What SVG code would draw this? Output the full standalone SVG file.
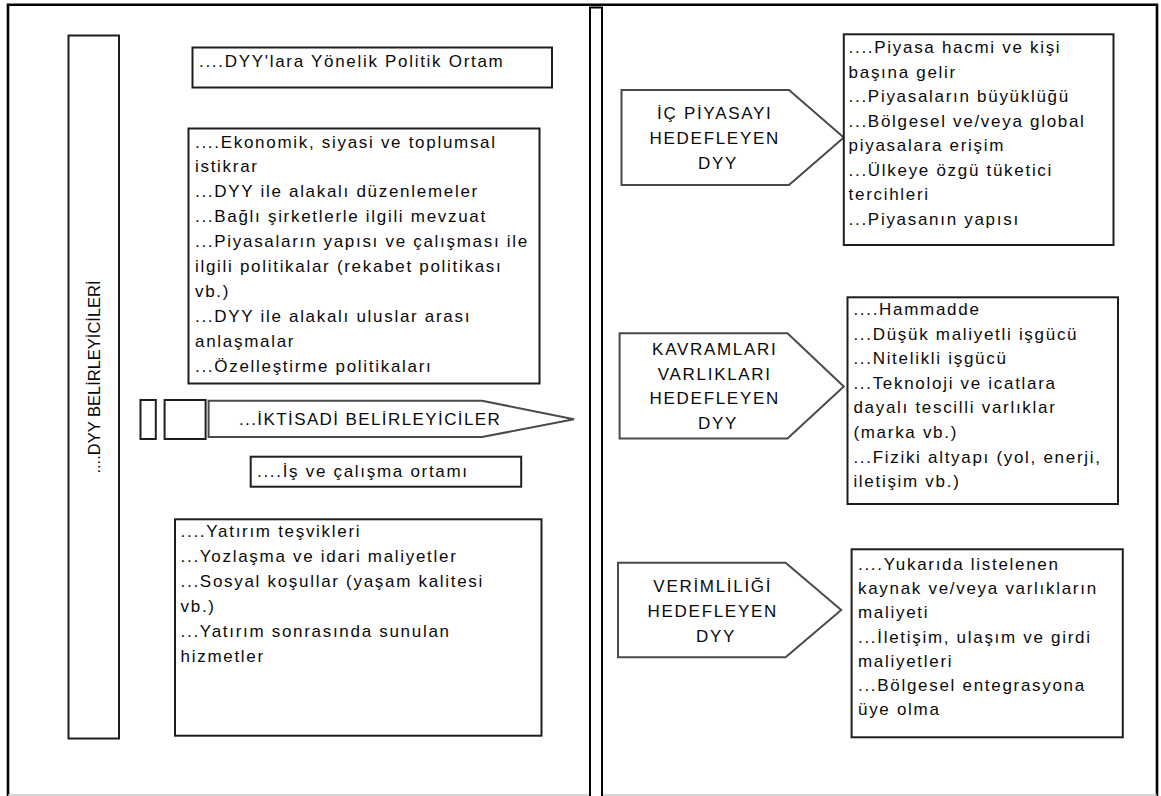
<svg xmlns="http://www.w3.org/2000/svg" width="1161" height="796" viewBox="0 0 1161 796">
<style>
  .bg{fill:#ffffff}
  .box{fill:#ffffff;stroke:#1e1e1e;stroke-width:2}
  .pent{fill:#ffffff;stroke:#4a4a4a;stroke-width:2;stroke-linejoin:miter}
  .t{font-family:"Liberation Sans",Arial,sans-serif;font-size:17px;fill:#0a0a0a;letter-spacing:1.7px}
  .c{text-anchor:middle}
  .v{font-size:16.5px;letter-spacing:0px}
</style>
<rect class="bg" x="0" y="0" width="1161" height="796"/>
<g id="frame">
  <path d="M8,796 V4.8 H1157 V796" fill="none" stroke="#000" stroke-width="2.6"/>
  <line x1="8" y1="795" x2="1157" y2="795" stroke="#c8c8c8" stroke-width="1.5"/>
  <rect x="590" y="7.5" width="12" height="790" fill="#fff" stroke="#000" stroke-width="2"/>
</g>
<g id="connectors"></g>
<g id="dyy-belirleyicileri">
  <rect class="box" x="68.5" y="35.5" width="50.5" height="703"/>
  <text class="t c v" x="100" y="377" transform="rotate(-90 100 377)">....DYY BELİRLEYİCİLERİ</text>
</g>
<g id="politik-ortam">
  <rect class="box" x="192.5" y="47.5" width="359.5" height="40"/>
  <text class="t" x="199" y="67">....DYY'lara Yönelik Politik Ortam</text>
</g>
<g id="politik-maddeler">
  <rect class="box" x="188.5" y="128.5" width="351" height="255"/>
  <text class="t" x="195">
    <tspan x="195" y="147.5">....Ekonomik, siyasi ve toplumsal</tspan>
    <tspan x="195" y="172.4">istikrar</tspan>
    <tspan x="195" y="197.3">...DYY ile alakalı düzenlemeler</tspan>
    <tspan x="195" y="222.2">...Bağlı şirketlerle ilgili mevzuat</tspan>
    <tspan x="195" y="247.1">...Piyasaların yapısı ve çalışması ile</tspan>
    <tspan x="195" y="272">ilgili politikalar (rekabet politikası</tspan>
    <tspan x="195" y="296.9">vb.)</tspan>
    <tspan x="195" y="321.8">...DYY ile alakalı uluslar arası</tspan>
    <tspan x="195" y="346.7">anlaşmalar</tspan>
    <tspan x="195" y="371.6">...Özelleştirme politikaları</tspan>
  </text>
</g>
<g id="kucuk-kutu-1">
  <rect class="box" x="140.5" y="400" width="15.3" height="39"/>
</g>
<g id="kucuk-kutu-2">
  <rect class="box" x="164.6" y="400" width="41" height="39"/>
</g>
<g id="iktisadi-belirleyiciler">
  <polygon class="pent" points="208.6,400.7 482,400.7 574,419.3 482,437 208.6,437"/>
  <text class="t" x="239" y="425" style="letter-spacing:1.4px">...İKTİSADİ BELİRLEYİCİLER</text>
</g>
<g id="is-ortami">
  <rect class="box" x="250.7" y="456.7" width="270.5" height="30"/>
  <text class="t" x="257" y="476.7">....İş ve çalışma ortamı</text>
</g>
<g id="iktisadi-maddeler">
  <rect class="box" x="175" y="519.3" width="366.5" height="216.4"/>
  <text class="t">
    <tspan x="180.6" y="537.3">....Yatırım teşvikleri</tspan>
    <tspan x="180.6" y="562.2">...Yozlaşma ve idari maliyetler</tspan>
    <tspan x="180.6" y="587.1">...Sosyal koşullar (yaşam kalitesi</tspan>
    <tspan x="180.6" y="612">vb.)</tspan>
    <tspan x="180.6" y="636.9">...Yatırım sonrasında sunulan</tspan>
    <tspan x="180.6" y="661.8">hizmetler</tspan>
  </text>
</g>
<g id="ic-piyasa">
  <polygon class="pent" points="621.5,90 789,90 843.8,137.5 789,185 621.5,185"/>
  <text class="t c">
    <tspan x="718" y="119">İÇ PİYASAYI</tspan>
    <tspan x="718" y="144">HEDEFLEYEN</tspan>
    <tspan x="718" y="169">DYY</tspan>
  </text>
</g>
<g id="ic-piyasa-maddeler">
  <rect class="box" x="843.8" y="34.3" width="269.7" height="210.7"/>
  <text class="t">
    <tspan x="848.6" y="53.3">....Piyasa hacmi ve kişi</tspan>
    <tspan x="848.6" y="77.8">başına gelir</tspan>
    <tspan x="848.6" y="102.3">...Piyasaların büyüklüğü</tspan>
    <tspan x="848.6" y="126.8">...Bölgesel ve/veya global</tspan>
    <tspan x="848.6" y="151.3">piyasalara erişim</tspan>
    <tspan x="848.6" y="175.8">...Ülkeye özgü tüketici</tspan>
    <tspan x="848.6" y="200.3">tercihleri</tspan>
    <tspan x="848.6" y="224.8">...Piyasanın yapısı</tspan>
  </text>
</g>
<g id="kavramlari-varliklari">
  <polygon class="pent" points="619.6,333.3 787.5,333.3 843.8,386.5 787.5,438.5 619.6,438.5"/>
  <text class="t c">
    <tspan x="718" y="355">KAVRAMLARI</tspan>
    <tspan x="718" y="379.5">VARLIKLARI</tspan>
    <tspan x="718" y="404">HEDEFLEYEN</tspan>
    <tspan x="718" y="428.5">DYY</tspan>
  </text>
</g>
<g id="kavramlari-maddeler">
  <rect class="box" x="847.5" y="297.3" width="270.5" height="206.7"/>
  <text class="t">
    <tspan x="853.4" y="315">....Hammadde</tspan>
    <tspan x="853.4" y="339.6">...Düşük maliyetli işgücü</tspan>
    <tspan x="853.4" y="364.2">...Nitelikli işgücü</tspan>
    <tspan x="853.4" y="388.8">...Teknoloji ve icatlara</tspan>
    <tspan x="853.4" y="413.4">dayalı tescilli varlıklar</tspan>
    <tspan x="853.4" y="438">(marka vb.)</tspan>
    <tspan x="853.4" y="462.6">...Fiziki altyapı (yol, enerji,</tspan>
    <tspan x="853.4" y="487.2">iletişim vb.)</tspan>
  </text>
</g>
<g id="verimlilik">
  <polygon class="pent" points="618,562.7 785.6,562.7 841.2,610 785.6,657.3 618,657.3"/>
  <text class="t c">
    <tspan x="716" y="592">VERİMLİLİĞİ</tspan>
    <tspan x="716" y="617">HEDEFLEYEN</tspan>
    <tspan x="716" y="642">DYY</tspan>
  </text>
</g>
<g id="verimlilik-maddeler">
  <rect class="box" x="851.6" y="549.3" width="271.2" height="188"/>
  <text class="t">
    <tspan x="858" y="570">....Yukarıda listelenen</tspan>
    <tspan x="858" y="594.2">kaynak ve/veya varlıkların</tspan>
    <tspan x="858" y="618.4">maliyeti</tspan>
    <tspan x="858" y="642.6">...İletişim, ulaşım ve girdi</tspan>
    <tspan x="858" y="666.8">maliyetleri</tspan>
    <tspan x="858" y="691">...Bölgesel entegrasyona</tspan>
    <tspan x="858" y="715.2">üye olma</tspan>
  </text>
</g>
</svg>
